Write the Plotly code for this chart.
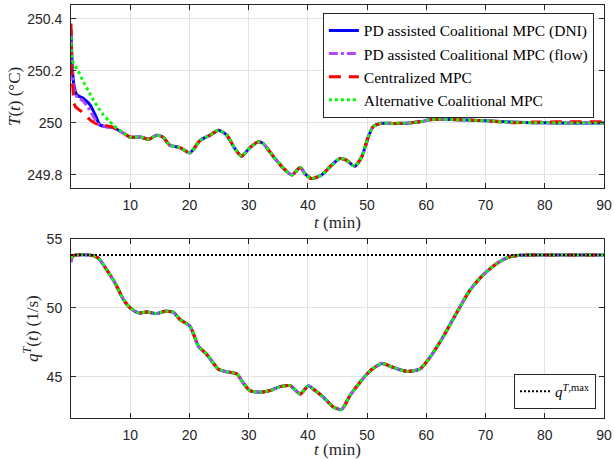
import plotly.graph_objects as go

# ---------------- data ----------------
# Temperature: shared part (after the initial transient)
t_common = [10.0, 11.7, 13.1, 14.5, 15.6, 16.7, 18.4, 20.1, 21.8, 23.5, 24.9, 26.3, 27.7, 28.8,
            30.2, 31.6, 32.4, 34.2, 35.9, 37.3, 38.7, 39.5, 40.6, 42.3, 43.7, 45.4, 46.5, 47.9,
            49.1, 50.2, 51.0, 52.2, 54.4, 57.2, 58.9, 60.6, 62.0, 64.0, 67.0, 70.2, 74.1, 78.0,
            82.0, 86.0, 90.0]
T_common = [249.945, 249.946, 249.937, 249.953, 249.944, 249.914, 249.905, 249.885, 249.933,
            249.953, 249.972, 249.953, 249.900, 249.872, 249.905, 249.927, 249.922, 249.870,
            249.825, 249.800, 249.829, 249.805, 249.786, 249.800, 249.831, 249.863, 249.857,
            249.833, 249.870, 249.946, 249.985, 249.998, 249.998, 250.000, 250.004, 250.012,
            250.014, 250.013, 250.011, 250.008, 250.003, 250.001, 250.000, 250.000, 250.000]
T_common_central_tail = [250.001, 250.003, 250.004, 250.004, 250.004]

# Temperature: initial transients (0-10 min)
t_early_dni = [0.0, 0.17, 0.44, 1.0, 2.1, 3.25, 4.1, 4.9, 6.05, 7.2, 8.9]
T_early_dni = [250.357, 250.24, 250.153, 250.107, 250.094, 250.068, 250.030, 249.992, 249.985,
               249.982, 249.960]
t_early_flow = [0.0, 0.17, 0.44, 1.0, 2.0, 3.0, 3.9, 4.6, 5.5, 7.0, 8.9]
T_early_flow = [250.36, 250.23, 250.14, 250.10, 250.085, 250.055, 250.02, 249.995, 249.988,
                249.982, 249.960]
t_early_cen = [0.0, 0.1, 0.3, 0.7, 1.8, 2.9, 3.6, 4.4, 5.8, 7.2, 8.9]
T_early_cen = [250.382, 250.215, 250.138, 250.064, 250.043, 250.018, 250.005, 249.995, 249.990,
               249.982, 249.960]
t_early_alt = [0.0, 0.15, 0.44, 1.2, 2.1, 3.0, 3.8, 4.6, 5.5, 6.4, 7.2, 8.9]
T_early_alt = [250.33, 250.25, 250.228, 250.20, 250.158, 250.12, 250.087, 250.058, 250.030,
               250.008, 249.990, 249.960]

# Total flow
t_q = [0.0, 0.3, 0.8, 2.0, 3.25, 4.1, 4.65, 6.06, 7.46, 8.87, 10.0, 11.4, 12.8, 14.5, 15.9,
       17.3, 18.4, 20.1, 21.5, 22.9, 24.9, 26.3, 28.0, 29.0, 30.2, 31.9, 33.6, 35.3, 37.0,
       38.7, 40.1, 40.9, 42.6, 44.3, 45.7, 47.1, 48.8, 50.5, 52.5, 54.4, 56.7, 58.9, 60.6,
       62.9, 65.1, 67.4, 69.6, 71.9, 74.1, 75.8, 80.0, 85.0, 90.0]
q_all = [53.60, 53.80, 53.85, 53.86, 53.84, 53.75, 53.60, 52.76, 51.80, 50.60, 50.00, 49.64,
         49.71, 49.59, 49.76, 49.68, 49.16, 48.67, 47.23, 46.64, 45.55, 45.36, 45.20, 44.60,
         43.99, 43.88, 43.99, 44.28, 44.35, 43.75, 44.35, 44.11, 43.52, 42.80, 42.62, 43.63,
         44.60, 45.43, 45.97, 45.68, 45.39, 45.55, 46.40, 47.95, 49.64, 51.32, 52.40, 53.24,
         53.72, 53.84, 53.85, 53.85, 53.85]
q_flow_start = [53.30, 53.75, 53.85]
q_max = 53.85
t_qmax = [0.0, 90.0]

x_ticks = [10, 20, 30, 40, 50, 60, 70, 80, 90]
T_ticks = [249.8, 250, 250.2, 250.4]
T_tick_text = ["249.8", "250", "250.2", "250.4"]
q_ticks = [45, 50, 55]

series_names = ["PD assisted Coalitional MPC (DNI)", "PD assisted Coalitional MPC (flow)",
                "Centralized MPC", "Alternative Coalitional MPC"]

# ---------------- style ----------------
BLUE = "#0000ff"
PURPLE = "#b347ff"
RED = "#ff0000"
GREEN = "#00ff00"
AX = "#262626"
SERIF = "'Liberation Serif', 'DejaVu Serif', serif"
SANS = "'Liberation Sans', Arial, sans-serif"
LW = 3

fig = go.Figure()

T_cen_full = T_common[:-5] + T_common_central_tail
specs = [
    (series_names[0], t_early_dni + t_common, T_early_dni + T_common, BLUE, "solid"),
    (series_names[1], t_early_flow + t_common, T_early_flow + T_common, PURPLE, "9px,3px,3px,3px"),
    (series_names[2], t_early_cen + t_common, T_early_cen + T_cen_full, RED, "12px,8px"),
    (series_names[3], t_early_alt + t_common, T_early_alt + T_common, GREEN, "3px,3px"),
]
for name, xs, ys, col, dash in specs:
    fig.add_trace(go.Scatter(x=xs, y=ys, mode="lines", name=name,
                             line=dict(color=col, width=LW, dash=dash, shape="spline", smoothing=0.6),
                             xaxis="x", yaxis="y", legend="legend"))

q_flow = q_flow_start + q_all[3:]
q_specs = [
    (q_all, BLUE, "solid"),
    (q_flow, PURPLE, "9px,3px,3px,3px"),
    (q_all, RED, "12px,8px"),
    (q_all, GREEN, "3px,3px"),
]
for ys, col, dash in q_specs:
    fig.add_trace(go.Scatter(x=t_q, y=ys, mode="lines", showlegend=False,
                             line=dict(color=col, width=LW, dash=dash, shape="spline", smoothing=0.6),
                             xaxis="x2", yaxis="y2"))

fig.add_trace(go.Scatter(x=t_qmax, y=[q_max, q_max], mode="lines",
                         name="<i>q</i><sup><i>T</i>,max</sup>",
                         line=dict(color="black", width=2, dash="2px,2px"),
                         xaxis="x2", yaxis="y2", legend="legend2"))

axis_common = dict(showline=True, linecolor=AX, linewidth=1, mirror="ticks",
                   ticks="inside", ticklen=5, tickcolor=AX, automargin=False,
                   showgrid=True, gridcolor="#e3e3e3", gridwidth=1, zeroline=False,
                   tickfont=dict(family=SANS, size=14, color=AX))

title_font = dict(family=SERIF, size=17, color=AX)

fig.update_layout(
    width=614, height=459,
    margin=dict(l=71, r=10, t=5, b=41, autoexpand=False),
    paper_bgcolor="white", plot_bgcolor="white",
    xaxis=dict(domain=[0, 1], range=[0, 90], tickvals=x_ticks, anchor="y", ticklabelstandoff=4,
               title=dict(text="<i>t</i> (min)", font=title_font, standoff=0),
               **axis_common),
    yaxis=dict(domain=[0.557, 1], range=[249.75, 250.453], tickvals=T_ticks, ticktext=T_tick_text,
               anchor="x", ticklabelstandoff=5,
               title=dict(text="<i>T</i>(<i>t</i>) (°C)", font=title_font, standoff=2),
               **axis_common),
    xaxis2=dict(domain=[0, 1], range=[0, 90], tickvals=x_ticks, anchor="y2", ticklabelstandoff=4,
                title=dict(text="<i>t</i> (min)", font=title_font, standoff=0),
                **axis_common),
    yaxis2=dict(domain=[0, 0.433], range=[42, 55], tickvals=q_ticks, anchor="x2", ticklabelstandoff=5,
                title=dict(text="<i>q</i><sup><i>T</i></sup>(<i>t</i>) (1/s)", font=title_font, standoff=3),
                **axis_common),
    legend=dict(x=0.981, y=0.981, xanchor="right", yanchor="top",
                bgcolor="white", bordercolor=AX, borderwidth=1,
                font=dict(family=SERIF, size=15.5, color="black"),
                tracegroupgap=0, itemwidth=30),
    legend2=dict(x=0.985, y=0.022, xanchor="right", yanchor="bottom",
                 bgcolor="white", bordercolor=AX, borderwidth=1,
                 font=dict(family=SERIF, size=15, color="black"), itemwidth=30),
)

fig.write_html("out.html")
